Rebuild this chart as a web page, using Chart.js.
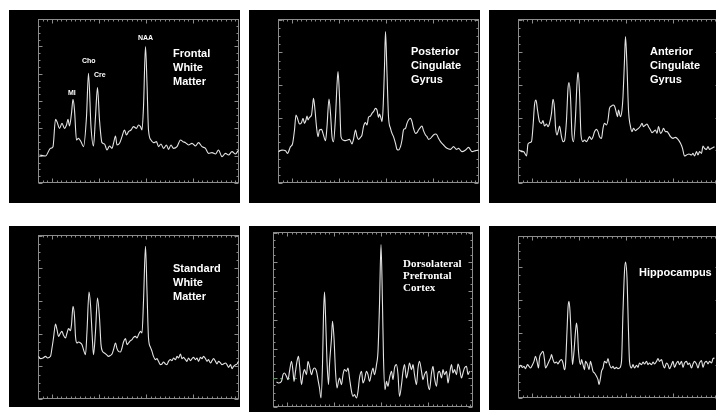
<!DOCTYPE html>
<html>
<head>
<meta charset="utf-8">
<script src="https://cdn.jsdelivr.net/npm/chart.js@4.4.1/dist/chart.umd.min.js"></script>
<style>
  html, body { margin: 0; padding: 0; }
  body { width: 716px; height: 412px; position: relative; overflow: hidden; background: #fff;
         font-family: "Liberation Sans", Arial, sans-serif; }
  .panel { position: absolute; background: #000; overflow: hidden; z-index: 1; }
  .panel canvas { position: absolute; left: 0; top: 0; }
  .lbl { position: absolute; z-index: 2; color: #fff; font-weight: bold; font-size: 11px; line-height: 14px; white-space: nowrap; }
  .serif { font-family: "Liberation Serif", "Times New Roman", serif; line-height: 12px; }
  .peak { position: absolute; z-index: 2; color: #fff; font-weight: bold; font-size: 7px; line-height: 7px; white-space: nowrap; }
</style>
</head>
<body>

<div class="lbl" style="left:173px;top:46px">Frontal<br>White<br>Matter</div>
<div class="peak" style="left:68px;top:89px">MI</div>
<div class="peak" style="left:82px;top:57px">Cho</div>
<div class="peak" style="left:94px;top:71px">Cre</div>
<div class="peak" style="left:138px;top:34px">NAA</div>
<div class="lbl" style="left:411px;top:44px">Posterior<br>Cingulate<br>Gyrus</div>
<div class="lbl" style="left:650px;top:44px">Anterior<br>Cingulate<br>Gyrus</div>
<div class="lbl" style="left:173px;top:261px">Standard<br>White<br>Matter</div>
<div class="lbl serif" style="left:403px;top:257px">Dorsolateral<br>Prefrontal<br>Cortex</div>
<div class="lbl" style="left:639px;top:265px">Hippocampus</div>

<script>
// chemical shift (ppm, axis runs right to left) and signal amplitude (a.u.) for each region

const frontalPpm = [4.14,4.02,3.92,3.87,3.82,3.79,3.74,3.69,3.64,3.60,3.57,3.54,3.50,3.47,3.44,3.40,3.36,3.31,3.26,3.20,
  3.16,3.11,3.06,3.02,2.98,2.94,2.89,2.84,2.79,2.74,2.69,2.66,2.62,2.59,2.54,2.49,2.44,2.40,2.36,2.31,
  2.26,2.20,2.16,2.12,2.09,2.06,2.02,1.99,1.96,1.91,1.86,1.80,1.76,1.71,1.66,1.60,1.56,1.51,1.46,1.39,
  1.32,1.27,1.22,1.16,1.09,1.02,0.96,0.89,0.82,0.76,0.69,0.62,0.56,0.49,0.42,0.36,0.29,0.22,0.16];
const frontalAmp = [84,81,104,109,191,184,164,179,164,174,191,171,209,251,219,129,134,124,109,199,
  329,169,111,199,286,189,121,117,99,111,104,119,141,114,119,139,159,144,154,159,
  169,164,174,169,159,229,409,299,159,129,121,124,109,117,104,114,101,114,104,109,
  129,124,121,114,119,111,121,109,104,89,91,87,99,79,89,84,94,87,99];

const posteriorPpm = [4.16,4.09,4.02,3.98,3.92,3.88,3.84,3.81,3.78,3.74,3.70,3.67,3.64,3.61,3.59,3.57,3.54,3.50,3.48,3.46,
  3.43,3.40,3.37,3.34,3.30,3.27,3.22,3.19,3.15,3.12,3.09,3.06,3.02,2.99,2.97,2.94,2.91,2.87,2.82,2.78,
  2.74,2.69,2.66,2.62,2.59,2.56,2.52,2.49,2.46,2.42,2.39,2.36,2.32,2.29,2.26,2.22,2.19,2.16,2.14,2.11,
  2.09,2.07,2.04,2.02,1.99,1.96,1.92,1.89,1.86,1.82,1.79,1.76,1.72,1.69,1.66,1.62,1.59,1.56,1.52,1.49,
  1.46,1.42,1.39,1.36,1.32,1.29,1.26,1.22,1.19,1.16,1.12,1.09,1.06,1.02,0.99,0.96,0.92,0.86,0.79,0.72,
  0.66,0.60,0.56,0.49,0.42,0.36,0.29,0.22,0.16];
const posteriorAmp = [94,99,97,89,109,117,159,204,194,177,181,194,179,189,201,189,197,204,229,254,
  219,169,139,159,161,149,127,169,252,209,139,124,199,294,334,259,139,129,127,129,
  131,117,131,159,139,131,137,144,169,181,174,197,201,209,214,224,219,197,207,194,
  184,219,349,454,329,199,164,149,139,119,101,99,109,129,159,164,179,189,194,184,
  164,149,151,159,167,171,157,144,139,131,134,139,144,147,144,134,124,114,104,101,
  109,101,104,94,99,107,94,97,99];

const anteriorPpm = [4.15,4.10,4.06,4.00,3.97,3.94,3.90,3.87,3.84,3.81,3.78,3.74,3.70,3.67,3.64,3.60,3.57,3.54,3.50,3.47,
  3.44,3.42,3.39,3.36,3.34,3.30,3.27,3.24,3.20,3.17,3.15,3.12,3.09,3.06,3.02,2.99,2.97,2.94,2.91,2.87,
  2.84,2.80,2.77,2.74,2.70,2.67,2.64,2.60,2.57,2.54,2.50,2.47,2.44,2.40,2.37,2.34,2.30,2.27,2.24,2.20,
  2.18,2.16,2.12,2.09,2.07,2.04,2.02,1.99,1.96,1.92,1.89,1.86,1.82,1.79,1.76,1.72,1.69,1.66,1.62,1.59,
  1.56,1.52,1.49,1.46,1.42,1.39,1.36,1.32,1.29,1.26,1.22,1.19,1.16,1.12,1.07,1.02,0.97,0.92,0.88,0.84,
  0.80,0.75,0.70,0.67,0.64,0.60,0.57,0.54,0.50,0.47,0.44,0.40,0.37,0.34,0.30,0.24];
const anteriorAmp = [99,94,94,81,117,121,124,169,234,249,219,184,179,187,171,177,169,179,209,251,
  224,169,144,159,171,139,124,127,189,284,301,259,144,124,199,299,332,274,144,124,
  129,124,131,139,131,139,154,161,154,139,134,164,179,174,189,224,231,234,231,209,
  199,219,199,219,259,369,439,349,219,169,154,164,157,161,164,171,179,169,174,177,
  169,159,151,154,159,149,169,149,154,164,154,154,149,139,134,137,131,119,104,81,
  84,87,84,89,81,94,84,94,89,111,104,101,109,101,104,109];

const standardPpm = [4.16,4.12,4.07,4.02,3.98,3.92,3.89,3.86,3.82,3.79,3.76,3.72,3.69,3.66,3.62,3.59,3.56,3.52,3.50,3.47,
  3.44,3.42,3.39,3.36,3.32,3.29,3.26,3.22,3.19,3.15,3.12,3.08,3.06,3.02,2.98,2.94,2.91,2.88,2.84,2.80,
  2.76,2.72,2.69,2.66,2.62,2.59,2.56,2.52,2.49,2.46,2.42,2.39,2.36,2.32,2.29,2.26,2.22,2.19,2.16,2.12,
  2.09,2.06,2.02,1.99,1.96,1.92,1.89,1.86,1.82,1.79,1.76,1.72,1.69,1.66,1.62,1.59,1.56,1.52,1.49,1.46,
  1.42,1.39,1.36,1.32,1.29,1.26,1.22,1.19,1.16,1.12,1.09,1.06,1.02,0.99,0.96,0.92,0.89,0.86,0.82,0.79,
  0.76,0.72,0.69,0.66,0.62,0.59,0.56,0.52,0.49,0.46,0.42,0.39,0.36,0.32,0.29,0.26,0.22,0.19,0.16];
const standardAmp = [128,121,123,128,123,128,153,183,225,208,188,198,203,191,183,198,211,205,223,278,
  248,188,168,171,168,163,148,133,203,321,283,173,133,203,303,243,163,143,138,133,
  128,131,135,148,168,151,143,141,153,171,181,163,168,175,178,185,188,183,193,203,
  198,293,458,323,183,155,143,128,118,121,113,103,105,111,105,103,113,118,115,123,
  118,128,123,135,121,125,118,113,123,115,121,125,118,123,113,125,121,128,121,113,
  118,108,115,121,113,105,113,108,103,105,108,103,95,103,91,98,103,105,113];

const dorsolateralPpm = [4.10,4.05,4.00,3.97,3.94,3.90,3.87,3.84,3.80,3.77,3.75,3.72,3.69,3.66,3.64,3.60,3.57,3.54,3.50,3.47,
  3.44,3.40,3.37,3.34,3.30,3.27,3.24,3.21,3.18,3.16,3.14,3.12,3.09,3.06,3.04,3.00,2.98,2.95,2.92,2.89,
  2.86,2.84,2.80,2.77,2.74,2.70,2.67,2.64,2.60,2.57,2.54,2.50,2.47,2.44,2.40,2.37,2.34,2.30,2.27,2.24,
  2.20,2.17,2.14,2.10,2.07,2.04,2.01,1.98,1.96,1.93,1.90,1.87,1.84,1.80,1.77,1.74,1.70,1.67,1.64,1.60,
  1.57,1.54,1.50,1.47,1.44,1.40,1.37,1.34,1.30,1.27,1.24,1.20,1.17,1.14,1.10,1.07,1.04,1.00,0.97,0.94,
  0.90,0.87,0.84,0.80,0.77,0.74,0.70,0.67,0.64,0.60,0.57,0.54,0.50,0.47,0.44,0.40,0.37,0.34,0.30,0.27,0.24];
const dorsolateralAmp = [75,72,77,97,102,92,82,107,137,107,77,107,137,152,127,67,97,112,97,137,
  122,97,112,117,107,82,57,27,127,277,345,277,137,67,127,207,257,207,107,57,
  77,87,67,97,112,107,117,87,47,32,37,27,47,87,107,72,82,107,97,77,
  102,117,97,127,167,307,487,307,147,52,77,62,87,107,82,117,127,97,32,67,
  107,127,87,107,132,112,127,97,67,117,137,107,82,97,107,67,52,102,122,87,
  62,102,107,87,112,97,107,72,97,127,102,112,97,129,117,87,102,117,122,97,107];
// green reference baseline visible at the left of the dorsolateral trace
const dorsolateralBasePpm = [4.17, 3.62];
const dorsolateralBaseAmp = [85, 85];

const hippocampusPpm = [4.15,4.12,4.08,4.05,4.02,3.98,3.95,3.92,3.88,3.85,3.82,3.79,3.76,3.74,3.70,3.67,3.64,3.62,3.58,3.55,
  3.52,3.50,3.47,3.44,3.40,3.37,3.34,3.30,3.27,3.24,3.22,3.19,3.17,3.15,3.13,3.10,3.08,3.05,3.02,3.00,
  2.98,2.96,2.92,2.90,2.87,2.84,2.82,2.78,2.75,2.72,2.70,2.67,2.64,2.60,2.57,2.55,2.52,2.50,2.47,2.44,
  2.40,2.37,2.34,2.30,2.27,2.24,2.20,2.17,2.14,2.10,2.07,2.04,2.02,1.99,1.96,1.94,1.90,1.87,1.84,1.80,
  1.77,1.74,1.70,1.67,1.64,1.60,1.57,1.54,1.50,1.47,1.44,1.40,1.37,1.34,1.30,1.27,1.24,1.20,1.17,1.14,
  1.10,1.07,1.04,1.00,0.97,0.94,0.90,0.87,0.84,0.80,0.77,0.74,0.70,0.67,0.64,0.60,0.57,0.54,0.50,0.47,
  0.44,0.40,0.37,0.34,0.30,0.27,0.24];
const hippocampusAmp = [90,98,92,95,88,100,95,90,100,110,125,110,90,120,135,140,115,90,100,110,
  120,130,115,105,108,102,110,115,105,85,100,200,270,290,260,160,100,140,200,225,
  200,140,100,115,100,85,110,100,85,110,100,80,75,65,55,40,60,80,90,110,
  105,118,100,90,95,88,92,88,90,110,260,380,408,360,200,110,90,100,90,98,
  92,105,100,108,102,110,100,105,100,108,102,110,118,110,115,100,90,105,100,88,
  100,110,92,105,110,100,110,92,105,110,100,105,90,102,110,102,90,105,112,92,
  105,110,102,110,105,118,120];

// major x ticks at whole ppm steps of the scanner scale, 10 minor steps between
const xMajorStart = 0.13;
const xMinorStep = 0.094;

// panel geometry: box [left, top, width, height], visible width, chart padding [l, t, r, b]
const panels = [
  { box: [9, 10, 231, 193], vis: 231, pad: [29, 9, 1, 20], xMin: 0.15, yMax: 492, yStep: 82,
    series: [[frontalPpm, frontalAmp]] },
  { box: [249, 10, 231, 193], vis: 231, pad: [29, 9, 1, 20], xMin: 0.15, yMax: 492, yStep: 98,
    series: [[posteriorPpm, posteriorAmp]] },
  { box: [489, 10, 240, 193], vis: 227, pad: [29, 9, 9, 20], xMin: 0.13, yMax: 492, yStep: 98,
    series: [[anteriorPpm, anteriorAmp]] },
  { box: [9, 226, 231, 181], vis: 231, pad: [29, 9, 1, 8], xMin: 0.15, yMax: 492, yStep: 98,
    series: [[standardPpm, standardAmp]] },
  { box: [249, 226, 231, 186], vis: 231, pad: [24, 6, 7, 5], xMin: 0.17, yMax: 525, yStep: 87,
    series: [[dorsolateralPpm, dorsolateralAmp], [dorsolateralBasePpm, dorsolateralBaseAmp, 'base']] },
  { box: [489, 226, 240, 184], vis: 227, pad: [29, 10, 9, 12], xMin: 0.13, yMax: 486, yStep: 98,
    series: [[hippocampusPpm, hippocampusAmp]] },
];

const framePlugin = {
  id: 'frame',
  beforeDatasetsDraw(chart, args, opts) {
    const { ctx, chartArea: a } = chart;
    const x = chart.scales.x, y = chart.scales.y;
    const L = Math.round(a.left) + 0.5, R = Math.round(a.right) - 0.5;
    const T = Math.round(a.top) + 0.5, B = Math.round(a.bottom) - 0.5;
    ctx.save();
    ctx.strokeStyle = '#8c8c8c';
    ctx.lineWidth = 1;
    ctx.strokeRect(L, T, R - L, B - T);
    ctx.beginPath();
    for (let k = -2; k < 60; k++) {
      const v = xMajorStart + k * xMinorStep;
      if (v < x.min - 0.001 || v > x.max + 0.001) continue;
      const px = Math.round(x.getPixelForValue(v)) + 0.5;
      const len = k % 10 === 0 ? 4 : 2;
      ctx.moveTo(px, T); ctx.lineTo(px, T + len);
      ctx.moveTo(px, B); ctx.lineTo(px, B - len);
    }
    const sub = opts.yStep / 4;
    for (let k = 0; k * sub <= y.max + 0.1; k++) {
      const py = Math.round(y.getPixelForValue(k * sub)) + 0.5;
      const len = k % 4 === 0 ? 4 : 2;
      ctx.moveTo(L, py); ctx.lineTo(L + len, py);
      ctx.moveTo(R, py); ctx.lineTo(R - len, py);
    }
    ctx.stroke();
    ctx.restore();
  }
};

panels.forEach(p => {
  const div = document.createElement('div');
  div.className = 'panel';
  div.style.left = p.box[0] + 'px';
  div.style.top = p.box[1] + 'px';
  div.style.width = p.vis + 'px';
  div.style.height = p.box[3] + 'px';
  const canvas = document.createElement('canvas');
  canvas.width = p.box[2];
  canvas.height = p.box[3];
  canvas.style.width = p.box[2] + 'px';
  canvas.style.height = p.box[3] + 'px';
  div.appendChild(canvas);
  document.body.appendChild(div);

  const datasets = p.series.map(([ppm, amp, kind]) => ({
    data: ppm.map((v, i) => ({ x: v, y: amp[i] })),
    borderColor: kind === 'base' ? '#3f9a3f' : '#e4e4e4',
    borderWidth: kind === 'base' ? 1 : 1.1,
    borderDash: kind === 'base' ? [3, 4] : [],
    pointRadius: 0,
    cubicInterpolationMode: 'monotone',
    fill: false,
  }));

  new Chart(canvas, {
    type: 'line',
    data: { datasets },
    options: {
      responsive: false,
      animation: false,
      events: [],
      layout: { padding: { left: p.pad[0], top: p.pad[1], right: p.pad[2], bottom: p.pad[3] } },
      plugins: {
        legend: { display: false },
        tooltip: { enabled: false },
        frame: { yStep: p.yStep },
      },
      scales: {
        x: { type: 'linear', reverse: true, min: p.xMin, max: 4.17, display: false },
        y: { type: 'linear', min: 0, max: p.yMax, display: false },
      },
    },
    plugins: [framePlugin],
  });
});
</script>
</body>
</html>
